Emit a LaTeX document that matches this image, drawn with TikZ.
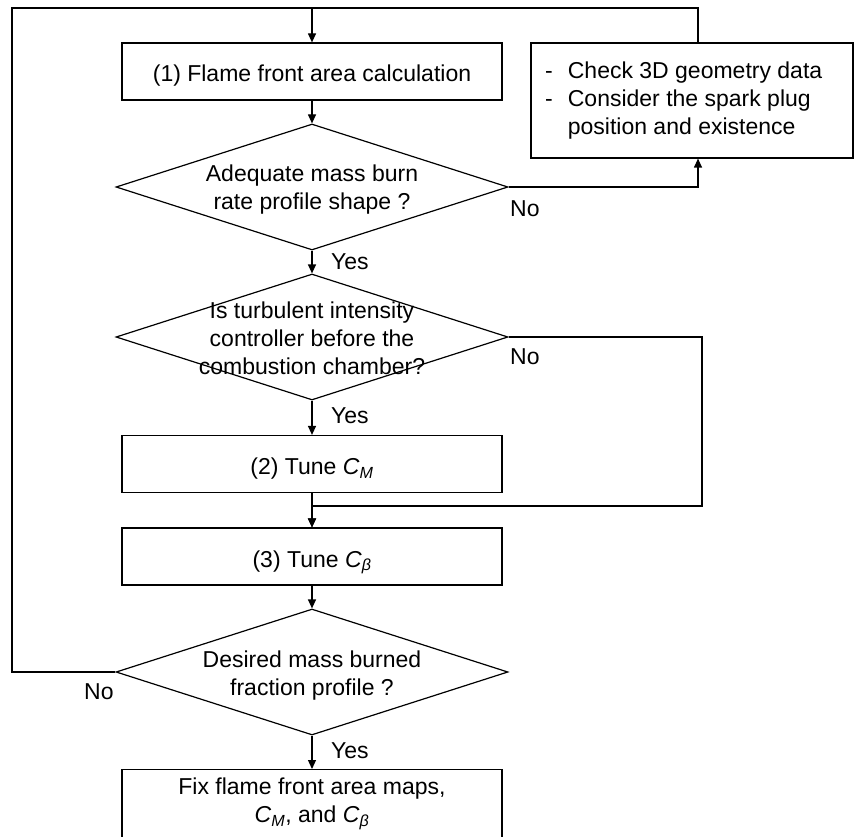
\documentclass[tikz,border=0pt]{standalone}
\usepackage{fontspec}
\setmainfont{Liberation Sans}
\usetikzlibrary{arrows.meta,positioning,shapes.geometric}

\newcommand{\Csub}[1]{\textit{C}\textsubscript{\textit{#1}}}

\begin{document}
\begin{tikzpicture}[
    x=1pt, y=-1pt,
    every node/.style={font=\fontsize{23}{28}\selectfont},
    box/.style={draw,line width=1.2pt,minimum width=380pt,minimum height=57pt,
                inner sep=0pt,align=center,text height=21pt,text depth=0pt},
    dec/.style={draw,line width=1.2pt,diamond,minimum width=392pt,
                minimum height=126pt,inner sep=0pt},
    dtext/.style={align=center,inner sep=0pt},
    line/.style={-{Triangle[length=9pt,width=8pt]},line width=1.2pt},
    fline/.style={line width=1.2pt},
    lbl/.style={anchor=west,inner sep=0pt}
]
\useasboundingbox (0,0) rectangle (854,837);
\clip (0,0) rectangle (854,837);

% Main chain
\node[box] (b1) at (312,71.5) {(1) Flame front area calculation};
\node[dec] (d1) at (312,187) {};
\node[dtext] (t1) at ([yshift=-3pt]d1) {Adequate mass burn\\rate profile shape ?};
\node[dec] (d2) at (312,337) {};
\node[dtext] (t2) at ([yshift=-1pt]d2) {Is turbulent intensity\\controller before the\\combustion chamber?};
\node[box] (b2) at (312,464) {(2) Tune \Csub{M}};
\node[box] (b3) at (312,556.5) {(3) Tune \Csub{β}};
\node[dec] (d3) at (312,672) {};
\node[dtext] (t3) at ([yshift=-3.5pt]d3) {Desired mass burned\\fraction profile ?};
\node[draw,line width=1.2pt,minimum width=380pt,minimum height=90pt,inner sep=0pt,
      anchor=north] (b4) at (312,769) {};
\node[dtext] (t4) at (312,804) {Fix flame front area maps,\\\Csub{M}, and \Csub{β}};

% Check box
\node[draw,line width=1.2pt,minimum width=322pt,minimum height=115pt,inner sep=0pt]
    (chk) at (692,100.5) {};
\node[anchor=west,inner sep=0pt,align=left] (chktxt) at (545,101)
    {\begin{tabular}{@{}l@{\hspace{15pt}}l@{}}
     - & Check 3D geometry data\\
     - & Consider the spark plug\\
       & position and existence
     \end{tabular}};

% Joints
\coordinate (jL) at (12,8);
\coordinate (jR) at (698,8);
\coordinate (top) at (312,8);
\coordinate (jB) at (702,506);
\coordinate (mrg) at (312,506);

% Connectors
\draw[line] (b1) -- (d1);
\draw[line] (d1) -- (d2);
\draw[line] (d2) -- (b2);
\draw[line] (b2) -- (b3);
\draw[line] (b3) -- (d3);
\draw[line] (d3) -- (b4);
\draw[line] (d1.east) -| (chk.south -| jR);
\draw[fline] (chk.north -| jR) -- (jR) -- (top);
\draw[line] (d3.west) -| (jL) -| (b1);
\draw[line] (d2.east) -| (jB) -- (mrg) -- (b3);

% Branch labels
\node[lbl] (y1) at (331,262) {Yes};
\node[lbl] (y2) at (331,416) {Yes};
\node[lbl] (y3) at (331,751) {Yes};
\node[lbl] (n1) at (510,209) {No};
\node[lbl] (n2) at (510,357) {No};
\node[lbl] (n3) at (84,692) {No};

\end{tikzpicture}
\end{document}
